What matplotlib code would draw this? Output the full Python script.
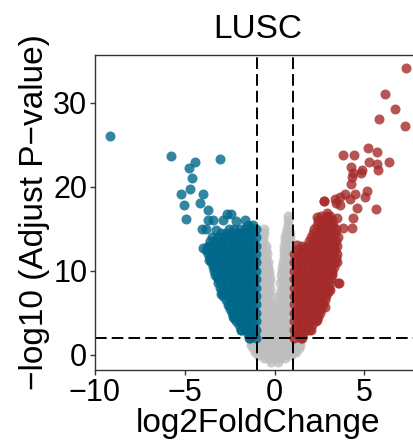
import matplotlib
matplotlib.use("Agg")
import matplotlib.pyplot as plt

plt.rcParams["font.family"] = ["Liberation Sans", "DejaVu Sans"]

BLUE = "#00688B"
RED = "#A52A2A"
GRAY = "#BEBEBE"

# ── dense cloud rows (y level -> x positions) ──
gray_row_y = [-0.8, -0.4, 0.0, 0.4, 0.8, 1.2, 1.6, 2.0,
              2.5, 3.0, 3.5, 4.0, 4.5, 5.0, 5.5, 6.0, 6.5, 7.0,
              7.5, 8.0, 8.5, 9.0, 9.5, 10.0, 10.5, 11.0, 11.5, 12.0,
              12.5, 13.0, 13.5, 14.0, 14.5, 15.0, 15.5, 16.0, 16.5]
gray_row_x = [
    [-0.2, 0.2],
    [-0.6, -0.3, 0.0, 0.3, 0.6],
    [-0.9, -0.6, -0.3, 0.0, 0.3, 0.6, 0.9],
    [-1.1, -0.8, -0.5, -0.2, 0.1, 0.4, 0.7, 1.0, 1.2],
    [-1.2, -0.9, -0.6, -0.3, 0.0, 0.3, 0.6, 0.9, 1.2, 1.35],
    [-1.3, -1.0, -0.7, -0.4, -0.1, 0.2, 0.5, 0.8, 1.1, 1.4],
    [-1.3, -1.05, -0.75, -0.45, -0.15, 0.15, 0.45, 0.75, 1.05, 1.4],
    [-0.95, -0.65, -0.35, -0.05, 0.25, 0.55, 0.85],
    [-0.9, -0.6, -0.3, 0.0, 0.3, 0.6, 0.9],
    [-0.8, -0.5, -0.2, 0.1, 0.4, 0.7, 0.95],
    [-0.9, -0.6, -0.3, 0.0, 0.3, 0.6, 0.9],
    [-0.8, -0.5, -0.2, 0.1, 0.4, 0.7, 0.95],
    [-0.9, -0.6, -0.3, 0.0, 0.3, 0.6, 0.9],
    [-0.8, -0.5, -0.2, 0.1, 0.4, 0.7, 0.95],
    [-0.9, -0.6, -0.3, 0.0, 0.3, 0.6, 0.9],
    [-0.8, -0.5, -0.2, 0.2, 0.45, 0.7, 0.95],
    [-0.9, -0.6, -0.3, 0.25, 0.55, 0.85],
    [-0.8, -0.5, -0.2, 0.3, 0.6, 0.95],
    [-0.9, -0.6, -0.3, 0.3, 0.6, 0.9],
    [-0.8, -0.5, -0.25, 0.4, 0.7, 0.95],
    [-0.9, -0.6, -0.3, 0.3, 0.6, 0.9],
    [-0.8, -0.5, -0.25, 0.4, 0.7, 0.95],
    [-0.9, -0.6, -0.3, 0.35, 0.65, 0.9],
    [-0.8, -0.5, -0.3, 0.4, 0.7, 0.95],
    [-0.9, -0.6, -0.35, 0.4, 0.65, 0.9],
    [-0.8, -0.5, -0.35, 0.45, 0.7, 0.95],
    [-0.75, -0.5, 0.5, 0.8],
    [-0.7, -0.45, 0.5, 0.8],
    [-0.75, -0.5, 0.55, 0.85],
    [-0.7, -0.5, 0.55, 0.85],
    [-0.65, 0.6, 0.85],
    [-0.65, 0.6, 0.85],
    [-0.6, 0.65, 0.85],
    [-0.6, 0.7],
    [0.75],
    [0.75],
    [0.77],
]

blue_row_y = [2.0, 2.5, 3.0, 3.5, 4.0, 4.5, 5.0, 5.5, 6.0, 6.5, 7.0, 7.5,
              8.0, 8.5, 9.0, 9.5, 10.0, 10.5, 11.0, 11.5, 12.0, 12.5, 13.0,
              13.5, 14.0, 14.5, 15.0, 15.5]
blue_row_x = [
    [-1.05, -1.35],
    [-1.2, -1.5],
    [-1.05, -1.35, -1.65, -1.85],
    [-1.2, -1.5, -1.8, -2.0],
    [-1.05, -1.35, -1.65, -1.95, -2.15],
    [-1.2, -1.5, -1.8, -2.1, -2.3],
    [-1.05, -1.35, -1.65, -1.95, -2.25, -2.4],
    [-1.2, -1.5, -1.8, -2.1, -2.4, -2.5],
    [-1.05, -1.35, -1.65, -1.95, -2.25, -2.55],
    [-1.2, -1.5, -1.8, -2.1, -2.4, -2.7],
    [-1.05, -1.35, -1.65, -1.95, -2.25, -2.55, -2.85],
    [-1.2, -1.5, -1.8, -2.1, -2.4, -2.7, -2.95],
    [-1.05, -1.35, -1.65, -1.95, -2.25, -2.55, -2.85, -3.05],
    [-1.2, -1.5, -1.8, -2.1, -2.4, -2.7, -3.0, -3.15],
    [-1.05, -1.35, -1.65, -1.95, -2.25, -2.55, -2.85, -3.15],
    [-1.2, -1.5, -1.8, -2.1, -2.4, -2.7, -3.0, -3.3],
    [-1.05, -1.35, -1.65, -1.95, -2.25, -2.55, -2.85, -3.15, -3.4],
    [-1.2, -1.5, -1.8, -2.1, -2.4, -2.7, -3.0, -3.3, -3.45],
    [-1.05, -1.35, -1.65, -1.95, -2.25, -2.55, -2.85, -3.15, -3.45, -3.55],
    [-1.2, -1.5, -1.8, -2.1, -2.4, -2.7, -3.0, -3.3, -3.6],
    [-1.05, -1.35, -1.65, -1.95, -2.25, -2.55, -2.85, -3.15, -3.45, -3.7],
    [-1.2, -1.5, -1.8, -2.1, -2.4, -2.7, -3.0, -3.3, -3.6, -3.8],
    [-1.05, -1.35, -1.65, -1.95, -2.25, -2.55, -2.85, -3.15, -3.45, -3.7],
    [-1.2, -1.5, -1.8, -2.1, -2.4, -2.7, -3.0, -3.3, -3.6],
    [-1.05, -1.35, -1.65, -1.95, -2.25, -2.55, -2.85, -3.15, -3.5],
    [-1.2, -1.5, -1.8, -2.1, -2.4, -2.7, -3.0],
    [-1.05, -1.35, -1.65, -1.95, -2.25, -2.55],
    [-1.2, -1.5],
]

red_row_y = [2.0, 2.5, 3.0, 3.5, 4.0, 4.5, 5.0, 5.5, 6.0, 6.5, 7.0, 7.5,
             8.0, 8.5, 9.0, 9.5, 10.0, 10.5, 11.0, 11.5, 12.0, 12.5, 13.0,
             13.5, 14.0, 14.5, 15.0, 15.5, 16.0, 16.5]
red_row_x = [
    [1.1, 1.45],
    [1.25, 1.6],
    [1.1, 1.4, 1.7, 1.9],
    [1.25, 1.55, 1.85, 2.1],
    [1.1, 1.4, 1.7, 2.0, 2.3],
    [1.25, 1.55, 1.85, 2.15, 2.4],
    [1.1, 1.4, 1.7, 2.0, 2.3, 2.5],
    [1.25, 1.55, 1.85, 2.15, 2.45, 2.6],
    [1.1, 1.4, 1.7, 2.0, 2.3, 2.6, 2.7],
    [1.25, 1.55, 1.85, 2.15, 2.45, 2.8],
    [1.1, 1.4, 1.7, 2.0, 2.3, 2.6, 2.85],
    [1.25, 1.55, 1.85, 2.15, 2.45, 2.75, 2.95],
    [1.1, 1.4, 1.7, 2.0, 2.3, 2.6, 2.9, 3.05],
    [1.25, 1.55, 1.85, 2.15, 2.45, 2.75, 3.05],
    [1.1, 1.4, 1.7, 2.0, 2.3, 2.6, 2.9, 3.15],
    [1.25, 1.55, 1.85, 2.15, 2.45, 2.75, 3.05, 3.2],
    [1.1, 1.4, 1.7, 2.0, 2.3, 2.6, 2.9, 3.2],
    [1.25, 1.55, 1.85, 2.15, 2.45, 2.75, 3.05, 3.3],
    [1.1, 1.4, 1.7, 2.0, 2.3, 2.6, 2.9, 3.2, 3.35],
    [1.25, 1.55, 1.85, 2.15, 2.45, 2.75, 3.05, 3.4],
    [1.1, 1.4, 1.7, 2.0, 2.3, 2.6, 2.9, 3.2, 3.45],
    [1.25, 1.55, 1.85, 2.15, 2.45, 2.75, 3.05, 3.35],
    [1.5, 1.8, 2.1, 2.4, 2.7, 3.0, 3.3, 3.5],
    [1.9, 2.2, 2.5, 2.8, 3.1, 3.4],
    [2.0, 2.3, 2.6, 2.9, 3.2, 3.55],
    [2.15, 2.45, 2.75, 3.05, 3.35],
    [2.2, 2.5, 2.8, 3.1, 3.4],
    [2.35, 2.65, 2.95, 3.25],
    [2.4, 2.7, 3.0, 3.2],
    [2.6, 2.9, 3.1],
]

# ── isolated points ──
blue_out_x = [-9.15, -5.76, -4.46, -4.77, -3.06, -4.59, -4.70, -5.23, -3.96,
              -5.05, -4.13, -3.72, -4.94, -3.72, -3.44, -2.65, -2.43, -2.89,
              -2.15, -1.66, -4.05, -3.81, -3.26, -1.33, -3.99, -3.63, -3.2,
              -2.98, -2.61, -3.72, -2.25, -1.88, -1.42, -1.3]
blue_out_y = [26.1, 23.7, 23.0, 22.3, 23.3, 21.0, 19.8, 19.2, 19.2,
              17.9, 18.1, 17.3, 16.2, 16.1, 16.1, 16.8, 16.8, 16.0,
              15.9, 16.0, 15.0, 15.0, 14.9, 15.1, 12.7, 11.3, 9.25,
              7.26, 5.95, 12.9, 4.4, 3.0, 2.0, 15.1]

red_out_x = [7.33, 6.17, 6.7, 5.82, 7.25, 3.79, 4.44, 5.21, 5.71, 5.27, 5.71,
             6.37, 5.76, 4.25, 4.81, 4.33, 4.25, 5.12, 5.03, 5.67, 2.73, 3.37,
             3.92, 4.48, 3.65, 4.2, 4.57, 4.38, 4.29, 3.65, 2.36, 2.91, 3.46,
             2.64, 3.19, 3.83, 2.54, 2.76, 3.41, 4.38, 4.85, 3.55, 2.82, 3.06,
             3.5, 3.19, 2.36, 1.53, 2.0, 3.57, 1.25, 1.71]
red_out_y = [34.2, 31.1, 29.3, 28.1, 27.3, 23.8, 23.8, 24.6, 24.1, 23.0, 22.7,
             23.0, 22.0, 22.4, 21.7, 21.2, 20.4, 19.5, 18.8, 17.4, 18.3, 18.5,
             19.2, 19.2, 18.8, 18.5, 17.5, 16.3, 15.1, 17.9, 16.4, 16.9, 16.3,
             15.3, 15.3, 15.1, 14.3, 18.3, 18.1, 21.6, 22.0, 8.5, 5.75, 7.7,
             11.1, 9.7, 4.2, 2.0, 3.0, 8.6, 13.1, 12.7]

FC_CUT = [-1, 1]
P_CUT = 2


def rows_to_xy(row_y, row_x):
    xs, ys = [], []
    for y, row in zip(row_y, row_x):
        xs += row
        ys += [y] * len(row)
    return xs, ys


gx, gy = rows_to_xy(gray_row_y, gray_row_x)
bx, by = rows_to_xy(blue_row_y, blue_row_x)
rx, ry = rows_to_xy(red_row_y, red_row_x)

fig = plt.figure(figsize=(4.14, 4.47), dpi=100)
ax = fig.add_axes([95 / 414, 1 - 370 / 447, (421 - 95) / 414, (370 - 55) / 447])

kw = dict(s=52, alpha=0.8, linewidths=0)
ax.scatter(gx, gy, color=GRAY, **kw)
ax.scatter(bx + blue_out_x, by + blue_out_y, color=BLUE, **kw)
ax.scatter(rx + red_out_x, ry + red_out_y, color=RED, **kw)

dash = (0, (6.0, 2.6))
for v in FC_CUT:
    ax.axvline(v, color="black", lw=1.4, ls=dash)
ax.axhline(P_CUT, color="black", lw=1.4, ls=dash)

ax.set_xlim(-9.97, 8.15)
ax.set_ylim(-1.8, 35.7)
ax.set_xticks([-10, -5, 0, 5])
ax.set_yticks([0, 10, 20, 30])
ax.set_xticklabels(["\u221210", "\u22125", "0", "5"])
for sp in ax.spines.values():
    sp.set_color("#333333")
    sp.set_linewidth(1.0)
ax.tick_params(length=3.5, width=1.0, color="#333333", labelsize=22,
               labelcolor="black", pad=2)
ax.set_xlabel("log2FoldChange", fontsize=24, labelpad=0)
ax.set_ylabel("\u2212log10 (Adjust P\u2212value)", fontsize=24, labelpad=2)
ax.set_title("LUSC", fontsize=24, pad=12)

fig.savefig("out.png", dpi=100)
